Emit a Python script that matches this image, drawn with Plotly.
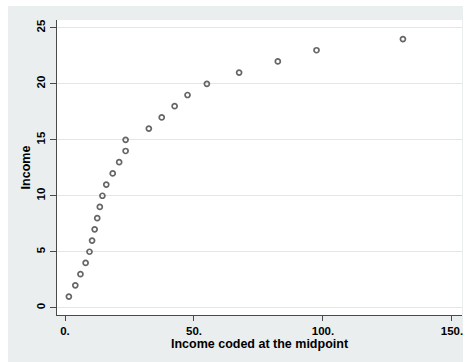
import plotly.graph_objects as go

income_mid = [1.5, 4, 6, 8, 9.5, 10.5, 11.5, 12.5, 13.5, 14.5, 16, 18.5, 21, 23.5, 23.5,
              32.5, 37.5, 42.5, 47.5, 55, 67.5, 82.5, 97.5, 131]
income = list(range(1, 25))
x_ticks = [0, 50, 100, 150]
x_ticktext = ["0.", "50.", "100.", "150."]
y_ticks = [0, 5, 10, 15, 20, 25]

W, H = 465, 362
L, R, T, B = 57, 3, 20, 47
pw, ph = W - L - R, H - T - B

def px_x(p):
    return (p - L) / pw

def px_y(p):
    return (T + ph - p) / ph

fig = go.Figure()
fig.add_trace(go.Scatter(
    x=income_mid, y=income, mode="markers",
    marker=dict(symbol="circle-open", size=5, color="#666666", line=dict(width=1.7, color="#666666")),
    showlegend=False, cliponaxis=False,
))

font = dict(family="Liberation Sans, Arial", size=11.5, color="#000000", weight="bold")
tfont = dict(family="Liberation Sans, Arial", size=12.5, color="#000000", weight="bold")

fig.update_layout(
    width=W, height=H,
    margin=dict(l=L, r=R, t=T, b=B, pad=0),
    paper_bgcolor="#eaeeee",
    plot_bgcolor="#ffffff",
    font=font,
    xaxis=dict(
        range=[-3.1, 153.9], tickmode="array", tickvals=x_ticks, ticktext=x_ticktext,
        showgrid=False, zeroline=False, showline=True, linecolor="#4a4a4a", linewidth=1,
        ticks="outside", ticklen=5, tickcolor="#4a4a4a", tickfont=font,
        title=dict(text="Income coded at the midpoint", font=tfont, standoff=0),
    ),
    yaxis=dict(
        range=[-0.65, 25.7], tickmode="array", tickvals=y_ticks, tickangle=-90,
        showgrid=True, gridcolor="#e4e6e6", gridwidth=1, zeroline=False,
        showline=True, linecolor="#4a4a4a", linewidth=1,
        ticks="outside", ticklen=6, tickcolor="#4a4a4a", tickfont=font,
        title=dict(text="Income", font=tfont, standoff=2),
    ),
    shapes=[
        dict(type="rect", xref="paper", yref="paper", layer="above",
             x0=px_x(-2), x1=px_x(8), y0=px_y(H + 2), y1=px_y(-2),
             fillcolor="#ffffff", line=dict(width=0)),
        dict(type="rect", xref="paper", yref="paper", layer="above",
             x0=px_x(-2), x1=px_x(W + 2), y0=px_y(6), y1=px_y(-2),
             fillcolor="#ffffff", line=dict(width=0)),
        dict(type="rect", xref="paper", yref="paper", layer="above",
             x0=px_x(463), x1=px_x(W + 2), y0=px_y(H + 2), y1=px_y(-2),
             fillcolor="#ffffff", line=dict(width=0)),
    ],
)

fig.write_html("out.html")
